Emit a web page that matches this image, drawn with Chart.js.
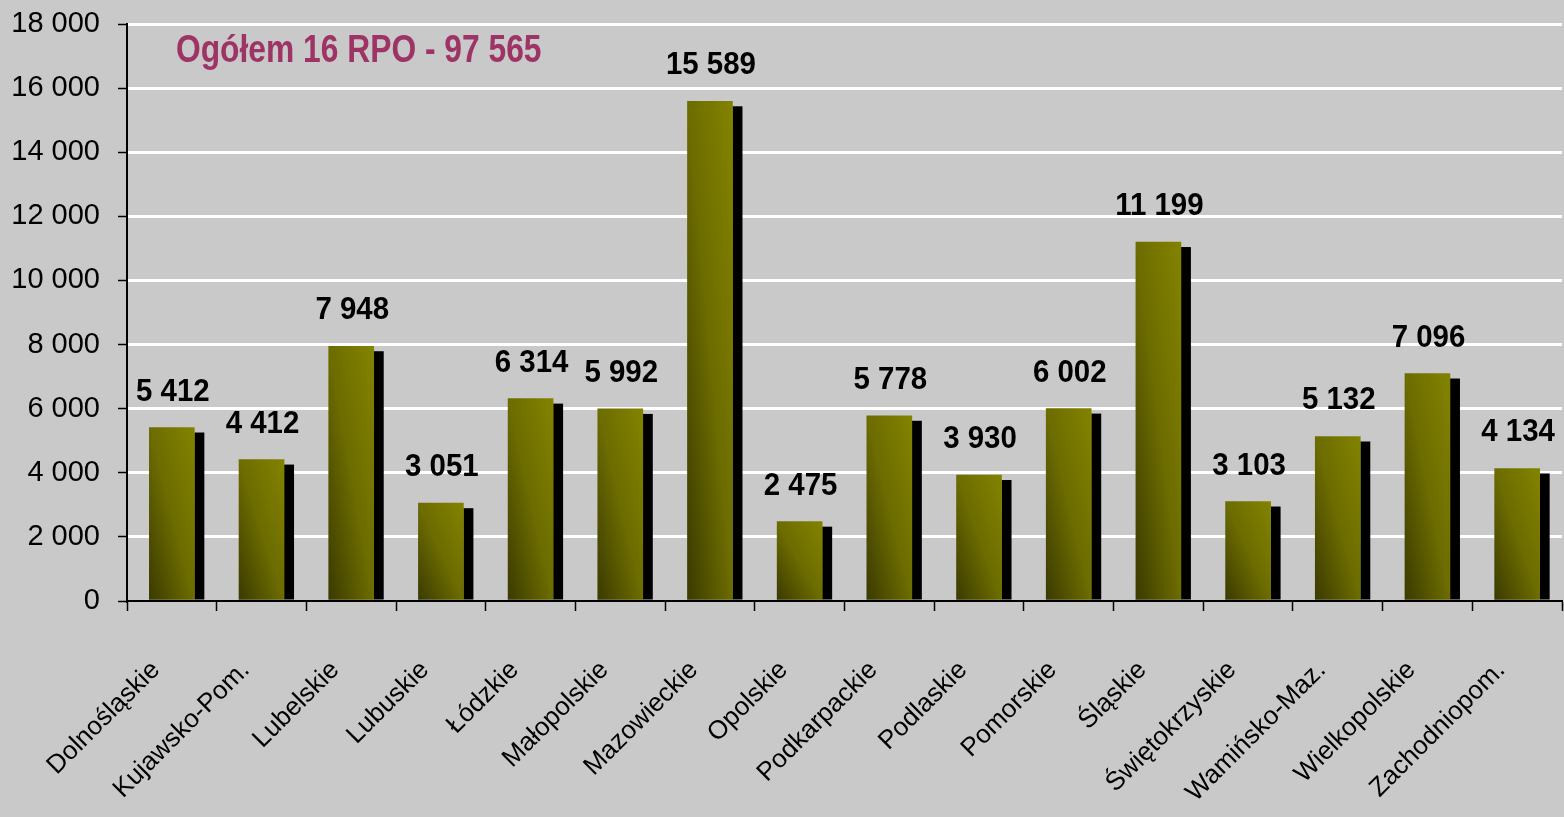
<!DOCTYPE html>
<html lang="pl">
<head>
<meta charset="utf-8">
<script src="https://cdn.jsdelivr.net/npm/chart.js@4.4.0/dist/chart.umd.min.js"></script>
<style>
  body { margin: 0; background: #c9c9c9; }
  #wrap { width: 1564px; height: 817px; }
</style>
</head>
<body>
<div id="wrap"><canvas id="rpoChart"></canvas></div>
<script>
// dane z wykresu
const regions = ["Dolnośląskie", "Kujawsko-Pom.", "Lubelskie", "Lubuskie", "Łódzkie", "Małopolskie",
  "Mazowieckie", "Opolskie", "Podkarpackie", "Podlaskie", "Pomorskie", "Śląskie",
  "Świętokrzyskie", "Wamińsko-Maz.", "Wielkopolskie", "Zachodniopom."];
const projects = [5412, 4412, 7948, 3051, 6314, 5992, 15589, 2475, 5778, 3930, 6002, 11199, 3103, 5132, 7096, 4134];
const yTicks = [0, 2000, 4000, 6000, 8000, 10000, 12000, 14000, 16000, 18000];
const titleText = "Ogółem 16 RPO - 97 565";

const FONT = '"Liberation Sans", Arial, sans-serif';
const BAR_W = 45;
const fmt = v => String(v).replace(/\B(?=(\d{3})+(?!\d))/g, " ");

// tekst ściśnięty w poziomie (oryginał jest zwężony)
function squeezedText(ctx, text, x, y, sx) {
  ctx.save();
  ctx.translate(x, y);
  ctx.scale(sx, 1);
  ctx.fillText(text, 0, 0);
  ctx.restore();
}

// cień słupków, etykiety wartości i tytuł
const barDecor = {
  id: "barDecor",
  beforeDatasetsDraw(chart) {
    const ctx = chart.ctx;
    ctx.save();
    ctx.fillStyle = "#000";
    chart.getDatasetMeta(0).data.forEach(bar => {
      const p = bar.getProps(["x", "y", "base", "width"], true);
      ctx.fillRect(p.x + p.width / 2, p.y + 5, 10, p.base - p.y - 5);
    });
    ctx.restore();
  },
  afterDatasetsDraw(chart) {
    const ctx = chart.ctx;
    ctx.save();
    ctx.fillStyle = "#000";
    ctx.font = "bold 32px " + FONT;
    ctx.textAlign = "center";
    ctx.textBaseline = "alphabetic";
    chart.getDatasetMeta(0).data.forEach((bar, i) => {
      const p = bar.getProps(["x", "y"], true);
      squeezedText(ctx, fmt(projects[i]), p.x + 1, p.y - 27, 0.92);
    });
    ctx.fillStyle = "#9e3366";
    ctx.font = "bold 38px " + FONT;
    ctx.textAlign = "left";
    squeezedText(ctx, titleText, 176, 62, 0.836);
    ctx.restore();
  }
};

// gradient ukośny rozciągnięty na prostokąt słupka
function barFill(c) {
  const chart = c.chart;
  if (!chart.chartArea) return "#6c6c00";
  const xs = chart.scales.x, ys = chart.scales.y;
  const left = xs.getPixelForValue(c.dataIndex) - BAR_W / 2;
  const bottom = ys.getPixelForValue(0);
  const h = Math.max(1, bottom - ys.getPixelForValue(projects[c.dataIndex]));
  const a = 1 / (2 * BAR_W), b = -1 / (2 * h), n = a * a + b * b;
  const g = chart.ctx.createLinearGradient(left, bottom, left + a / n, bottom + b / n);
  g.addColorStop(0, "#3a3a00");
  g.addColorStop(0.5, "#6c6c00");
  g.addColorStop(1, "#838300");
  return g;
}

new Chart(document.getElementById("rpoChart"), {
  type: "bar",
  data: {
    labels: regions,
    datasets: [{ data: projects, backgroundColor: barFill, barThickness: BAR_W, borderWidth: 0 }]
  },
  options: {
    responsive: true,
    maintainAspectRatio: false,
    animation: false,
    layout: { padding: { top: 24, right: 2, left: 0, bottom: 0 } },
    plugins: { legend: { display: false }, tooltip: { enabled: false } },
    scales: {
      x: {
        afterFit: s => { s.height = 216; s.paddingLeft = 0; s.paddingRight = 0; },
        grid: { offset: true, drawOnChartArea: false, tickLength: 10, tickColor: "#000", tickWidth: 1.5 },
        border: { color: "#000", width: 2 },
        ticks: {
          autoSkip: false, minRotation: 45, maxRotation: 45, padding: 44, labelOffset: -16,
          color: "#000", font: { family: FONT, size: 26 }
        }
      },
      y: {
        min: 0, max: 18000,
        afterFit: s => { s.width = 127; s.paddingTop = 0; s.paddingBottom = 0; },
        afterBuildTicks: s => { s.ticks = yTicks.map(v => ({ value: v })); },
        grid: {
          color: c => (c.tick && c.tick.value === 0 ? "rgba(0,0,0,0)" : "#fff"),
          lineWidth: 3, tickLength: 9, tickColor: "#000", tickWidth: 1.5
        },
        border: { color: "#000", width: 2 },
        ticks: { padding: 18, color: "#000", font: { family: FONT, size: 29 }, callback: v => fmt(v) }
      }
    }
  },
  plugins: [barDecor]
});
</script>
</body>
</html>
